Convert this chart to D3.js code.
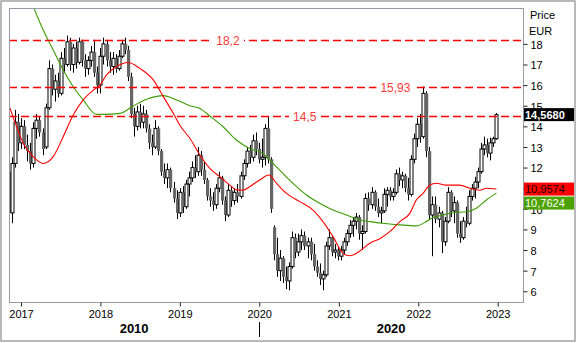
<!DOCTYPE html>
<html><head><meta charset="utf-8">
<script src="https://cdn.jsdelivr.net/npm/d3@7"></script>
<style>
html,body{margin:0;padding:0;background:#fff;}
svg{display:block;font-family:"Liberation Sans",Arial,sans-serif;}
</style></head><body>
<svg id="chart" width="577" height="343"></svg>
<script>
// Two-week price bars, EUR
const firstBar = "2016-11-07";
const barStepDays = 14;
const open = [11.8,9.8,12.2,14.2,13.2,14.0,13.1,12.8,12.2,13.9,14.3,13.7,13.0,14.9,16.8,15.8,16.2,15.6,17.3,17.0,
  18.1,17.0,17.8,17.1,18.1,17.2,16.8,17.2,17.6,16.6,16.0,17.4,18.0,17.2,16.9,17.3,16.8,17.4,18.0,17.7,
  16.4,14.6,14.0,14.7,14.2,14.6,13.9,13.2,13.0,13.9,12.8,11.8,11.5,11.9,11.0,10.5,9.8,10.8,10.1,11.2,
  11.5,12.0,11.8,12.6,11.9,11.4,10.6,10.4,10.2,11.0,11.5,10.4,9.7,10.9,10.4,10.8,10.6,11.6,12.2,12.8,
  12.5,13.3,12.9,12.4,12.5,13.9,12.4,9.1,7.8,7.0,7.6,6.7,6.5,7.2,8.6,7.9,8.4,8.7,8.2,8.4,
  7.8,7.2,6.9,6.6,6.8,8.2,8.6,7.9,8.0,7.7,8.0,8.4,8.8,9.2,9.4,9.6,8.8,8.9,10.5,10.2,
  10.8,10.1,9.8,9.9,10.7,10.9,10.6,10.8,11.7,11.4,11.6,11.0,10.7,12.4,13.4,14.1,13.5,15.6,12.8,9.7,
  10.2,9.5,9.8,8.4,9.4,10.8,9.9,10.3,8.8,8.6,9.4,9.3,10.6,11.0,11.3,11.8,12.9,13.1,12.7,13.2,13.4];
const high = [12.2,12.5,14.8,14.6,14.4,14.3,13.6,13.2,14.2,14.6,14.5,13.9,15.1,17.2,17.0,16.5,16.6,17.6,17.8,18.4,
  18.3,18.0,18.1,18.3,18.2,17.5,17.4,17.9,18.2,16.9,17.8,18.3,18.2,17.6,17.6,17.5,17.7,18.2,18.3,17.9,
  16.6,14.9,15.0,15.1,15.0,14.8,14.1,13.6,14.3,14.0,12.9,12.2,12.2,12.0,11.3,10.9,11.0,11.1,11.4,11.8,
  12.3,12.6,13.0,12.8,12.3,11.5,11.0,10.8,11.2,11.8,11.6,10.6,11.2,11.1,11.0,11.2,11.8,12.4,13.0,13.1,
  13.6,13.7,13.2,13.4,14.1,14.5,12.5,9.2,8.6,8.0,7.7,7.2,7.4,8.9,8.8,8.8,9.0,8.9,8.6,8.6,
  8.3,7.5,7.35,7.0,8.4,9.0,8.7,8.3,8.15,8.2,8.6,9.0,9.45,9.6,9.8,9.7,9.2,10.75,10.8,11.05,
  10.9,10.5,10.1,11.0,11.05,11.05,11.0,11.9,12.0,11.8,11.7,11.5,12.6,13.65,14.4,14.6,15.93,15.7,13.0,10.6,
  10.6,10.1,9.9,9.6,11.05,10.9,10.6,10.4,9.4,9.6,10.1,10.9,11.2,11.55,12.0,13.2,13.5,13.4,13.45,13.5,14.65];
const low = [9.4,9.3,12.0,12.8,12.9,12.9,12.3,11.9,12.0,13.4,13.5,12.6,12.9,14.8,15.5,15.2,15.4,15.5,16.6,16.9,
  16.7,16.6,16.8,17.0,16.9,16.4,16.5,16.9,16.4,15.6,15.6,17.0,16.9,16.6,16.5,16.6,16.7,17.3,17.5,16.2,
  14.4,13.5,13.8,13.9,13.9,13.7,12.9,12.6,12.9,12.6,11.6,11.2,11.0,10.8,10.3,9.5,9.6,9.8,10.0,10.6,
  11.3,11.5,11.6,11.6,11.2,10.4,10.1,9.9,10.0,10.8,10.2,9.4,9.6,10.1,10.2,10.3,10.5,11.4,12.0,12.2,
  12.3,12.6,12.2,12.0,12.1,12.2,9.8,7.5,6.7,6.5,6.4,6.1,6.05,7.1,7.6,7.7,8.0,8.0,7.6,7.5,
  7.0,6.7,6.3,6.05,6.7,8.0,7.7,7.6,7.5,7.5,7.8,8.2,8.6,8.65,9.0,8.5,8.0,8.8,9.9,10.0,
  9.9,9.6,9.3,9.8,10.1,10.4,10.4,10.7,11.1,11.0,10.8,10.4,10.6,12.2,13.0,13.2,13.4,12.5,9.5,7.7,
  9.3,9.1,7.85,8.2,9.3,9.6,9.3,8.6,8.35,8.5,9.1,9.2,10.4,10.5,11.0,11.7,12.6,12.5,12.35,13.0,13.35];
const close = [9.8,12.2,14.2,13.2,14.0,13.1,12.8,12.2,13.9,14.3,13.7,12.9,14.9,16.8,15.8,16.2,15.6,17.3,17.0,18.1,
  17.0,17.8,17.1,18.1,17.2,16.8,17.2,17.6,16.6,16.0,17.4,18.0,17.2,16.9,17.3,16.8,17.4,18.0,17.7,16.4,
  14.6,14.0,14.7,14.2,14.6,13.9,13.2,13.0,13.9,12.8,11.8,11.5,11.9,11.0,10.5,9.8,10.8,10.1,11.2,11.5,
  12.0,11.8,12.6,11.9,11.4,10.6,10.4,10.2,11.0,11.5,10.4,9.7,10.9,10.4,10.8,10.6,11.6,12.2,12.8,12.5,
  13.3,12.9,12.4,12.5,13.9,12.4,10.0,7.8,7.0,7.6,6.7,6.5,7.2,8.6,7.9,8.4,8.7,8.2,8.4,7.8,
  7.2,6.9,6.6,6.8,8.2,8.6,7.9,8.0,7.7,8.0,8.4,8.8,9.2,9.4,9.6,8.8,8.9,10.5,10.2,10.8,
  10.1,9.8,9.9,10.7,10.9,10.6,10.8,11.7,11.4,11.6,11.0,10.7,12.4,13.4,14.1,13.5,15.6,12.8,9.7,10.2,
  9.5,9.8,8.4,9.4,10.8,9.9,10.3,8.8,8.6,9.4,9.3,10.6,11.0,11.3,11.8,12.9,13.1,12.7,13.2,13.4,14.568];

// Moving averages (short = red, long = green)
const maShortDates = ["2016-11-11","2016-12-12","2017-01-11","2017-02-26","2017-04-13","2017-05-29","2017-07-14","2017-08-29",
  "2017-10-14","2017-11-29","2017-12-30","2018-01-29","2018-03-16","2018-05-09","2018-07-02","2018-09-01","2018-10-17",
  "2018-12-02","2019-01-01","2019-02-16","2019-04-03","2019-05-19","2019-07-04","2019-08-19","2019-09-18","2019-10-19",
  "2019-11-18","2020-01-03","2020-02-15","2020-03-20","2020-05-05","2020-07-05","2020-09-04","2020-10-20","2020-12-05",
  "2021-01-20","2021-02-20","2021-04-07","2021-05-23","2021-07-08","2021-08-23","2021-10-08","2021-11-23","2021-12-23",
  "2022-01-23","2022-02-23","2022-03-25","2022-05-10","2022-07-10","2022-08-25","2022-10-10","2022-11-10","2022-12-26"];
const maShortValues = [14.9,13.98,13.18,12.53,12.2,12.53,13.5,14.55,
  15.28,15.76,16.0,16.5,16.9,17.1,16.8,16.25,15.44,
  14.63,14.05,13.42,12.61,11.96,11.56,11.15,10.92,10.9,
  11.07,11.4,11.64,11.24,10.75,10.35,9.94,9.38,8.65,
  7.84,7.72,7.95,8.33,8.55,8.89,9.38,9.78,10.43,
  10.75,11.15,11.24,11.15,11.15,11.0,10.9,11.0,10.9574];
const maLongDates = ["2017-02-12","2017-04-13","2017-05-29","2017-07-14","2017-08-29","2017-10-14","2017-12-14","2018-01-14",
  "2018-04-01","2018-06-01","2018-08-01","2018-10-17","2018-12-17","2019-02-16","2019-04-03","2019-05-19","2019-07-19",
  "2019-09-18","2019-11-18","2020-01-18","2020-02-18","2020-04-04","2020-06-04","2020-08-05","2020-10-05","2020-12-05",
  "2021-02-05","2021-04-07","2021-05-23","2021-07-23","2021-10-08","2021-12-23","2022-02-07","2022-03-10","2022-04-09",
  "2022-06-10","2022-08-10","2022-09-25","2022-11-10","2022-12-26"];
const maLongValues = [20.2,18.67,17.7,16.73,15.92,15.28,14.58,14.58,
  14.63,14.99,15.31,15.49,15.28,15.0,14.87,14.5,13.98,
  13.34,12.93,12.69,12.37,11.88,11.24,10.67,10.27,9.94,
  9.7,9.46,9.38,9.3,9.22,9.17,9.38,9.58,9.66,
  9.81,9.86,10.03,10.43,10.7624];

// Horizontal reference levels
const levels = [18.2, 15.93, 14.5];
const levelLabels = ["18,2", "15,93", "14,5"];
const levelLabelDates = ["2019-08-10", "2021-09-18", "2020-07-28"];

// Axis text
const yearTicks = ["2017","2018","2019","2020","2021","2022","2023"];
const priceTicks = [6,7,8,9,10,11,12,13,14,15,16,17,18];
const decadeLabels = ["2010", "2020"];
const decadeBreak = "2020-01-01";
const axisTitle = "Price";
const currency = "EUR";

const parse = d3.utcParse("%Y-%m-%d");
const W = 577, H = 343;
const plot = {left: 9, right: 523, top: 8, bottom: 302};

const svg = d3.select("#chart");

const x = d3.scaleUtc()
  .domain([parse("2017-01-01"), parse("2023-01-01")])
  .range([21, 497.7]);
const y = d3.scaleLinear()
  .domain([5.48, 19.74])
  .range([plot.bottom, plot.top]);

const bars = open.map((o, i) => ({
  date: d3.utcDay.offset(parse(firstBar), i * barStepDays),
  o, h: high[i], l: low[i], c: close[i]
}));

// outer frame
svg.append("rect").attr("x", 1).attr("y", 1).attr("width", W - 3).attr("height", H - 3)
  .attr("fill", "#fff").attr("stroke", "#a3a3a3").attr("stroke-width", 1.5);

svg.append("clipPath").attr("id", "plotClip").append("rect")
  .attr("x", plot.left).attr("y", plot.top)
  .attr("width", plot.right - plot.left).attr("height", plot.bottom - plot.top);

const inner = svg.append("g").attr("clip-path", "url(#plotClip)");

// candles
const cg = inner.append("g");
bars.forEach(b => {
  const cx = Math.round(x(b.date));
  cg.append("line")
    .attr("x1", cx + 0.5).attr("x2", cx + 0.5)
    .attr("y1", y(b.h)).attr("y2", y(b.l))
    .attr("stroke", "#000").attr("stroke-width", 1);
  const top = y(Math.max(b.o, b.c)), bot = y(Math.min(b.o, b.c));
  if (b.c >= b.o) {
    cg.append("rect")
      .attr("x", cx - 1).attr("y", top)
      .attr("width", 3).attr("height", Math.max(1, bot - top))
      .attr("fill", "#fff").attr("stroke", "#000").attr("stroke-width", 1);
  } else {
    cg.append("rect")
      .attr("x", cx - 1).attr("y", top)
      .attr("width", 3.2).attr("height", Math.max(1, bot - top))
      .attr("fill", "#666666");
  }
});

// moving averages
const ma = (dates, vals) => dates.map((d, i) => [x(parse(d)), y(vals[i])]);
const line = d3.line().curve(d3.curveMonotoneX);
inner.append("path").attr("d", line(ma(maLongDates, maLongValues)))
  .attr("fill", "none").attr("stroke", "#3c9c00").attr("stroke-width", 1.1);
inner.append("path").attr("d", line(ma(maShortDates, maShortValues)))
  .attr("fill", "none").attr("stroke", "#ff0000").attr("stroke-width", 1.1);

// reference levels
levels.forEach((v, i) => {
  const yy = Math.round(y(v)) + 0.5;
  svg.append("line")
    .attr("x1", plot.left).attr("x2", plot.right)
    .attr("y1", yy).attr("y2", yy)
    .attr("stroke", "#ff0000").attr("stroke-width", 1.3)
    .attr("stroke-dasharray", "8,4");
  const lx = x(parse(levelLabelDates[i]));
  const t = svg.append("text")
    .attr("x", lx).attr("y", yy + 4.5)
    .attr("text-anchor", "middle")
    .attr("font-size", 12).attr("fill", "#ff3a3a")
    .text(levelLabels[i]);
  const bb = t.node().getBBox();
  svg.insert("rect", () => t.node())
    .attr("x", bb.x - 4).attr("y", yy - 5)
    .attr("width", bb.width + 8).attr("height", 10)
    .attr("fill", "#fff");
});

// plot frame
svg.append("rect")
  .attr("x", plot.left + 0.5).attr("y", plot.top + 0.5)
  .attr("width", plot.right - plot.left).attr("height", plot.bottom - plot.top)
  .attr("fill", "none").attr("stroke", "#9b99a9").attr("stroke-width", 1);

// last-value tags on the price scale
const fmt = v => d3.format(".4f")(v).replace(".", ",");
const tags = [
  {v: close[close.length - 1], bg: "#000000", fg: "#ffffff", bold: true},
  {v: maShortValues[maShortValues.length - 1], bg: "#ff0000", fg: "#1a0000", bold: false},
  {v: maLongValues[maLongValues.length - 1], bg: "#4ca300", fg: "#ffffff", bold: false}
];
let prevBottom = -Infinity;
tags.forEach(t => {
  let top = y(t.v) - 6.5;
  if (top < prevBottom + 1) top = prevBottom + 1;
  prevBottom = top + 13;
  t.top = top;
});

// right price axis; a tick label that a tag covers completely is left out
const covered = v => tags.some(t => y(v) - 4 >= t.top && y(v) + 4 <= t.top + 13);
const yAxis = d3.axisRight(y).tickValues(priceTicks).tickSize(4).tickPadding(3)
  .tickFormat(v => covered(v) ? "" : d3.format("d")(v));
const ya = svg.append("g").attr("transform", `translate(${plot.right + 0.5},0)`).call(yAxis);
ya.select(".domain").remove();
ya.selectAll("line").attr("stroke", "#222");
ya.selectAll("text").attr("font-size", 11).attr("font-family", "Liberation Sans, Arial, sans-serif")
  .attr("fill", "#000").attr("dy", "0.4em");

svg.append("text").attr("x", 530).attr("y", 19).attr("font-size", 11).attr("fill", "#000").text(axisTitle);
svg.append("text").attr("x", 529).attr("y", 35).attr("font-size", 11).attr("fill", "#000").text(currency);

tags.forEach(t => {
  svg.append("rect").attr("x", 524).attr("y", t.top).attr("width", 50).attr("height", 13).attr("fill", t.bg);
  svg.append("text").attr("x", 525).attr("y", t.top + 10.5)
    .attr("font-size", 11).attr("font-weight", t.bold ? "bold" : "normal")
    .attr("fill", t.fg).text(fmt(t.v));
});

// bottom time axis
const xAxis = d3.axisBottom(x).tickValues(yearTicks.map(s => parse(s + "-01-01")))
  .tickSize(4).tickPadding(4).tickFormat(d3.utcFormat("%Y"));
const xa = svg.append("g").attr("transform", `translate(0,${plot.bottom + 0.5})`).call(xAxis);
xa.select(".domain").remove();
xa.selectAll("line").attr("stroke", "#222");
xa.selectAll("text").attr("font-size", 11).attr("font-family", "Liberation Sans, Arial, sans-serif")
  .attr("fill", "#000");

const xb = x(parse(decadeBreak));
svg.append("line").attr("x1", Math.round(xb) + 0.5).attr("x2", Math.round(xb) + 0.5)
  .attr("y1", 322).attr("y2", 337).attr("stroke", "#000");
[[plot.left, xb], [xb, plot.right]].forEach((seg, i) => {
  svg.append("text")
    .attr("x", (seg[0] + seg[1]) / 2).attr("y", 333)
    .attr("text-anchor", "middle").attr("font-size", 13).attr("font-weight", "bold")
    .attr("fill", "#000").text(decadeLabels[i]);
});
</script>
</body></html>
